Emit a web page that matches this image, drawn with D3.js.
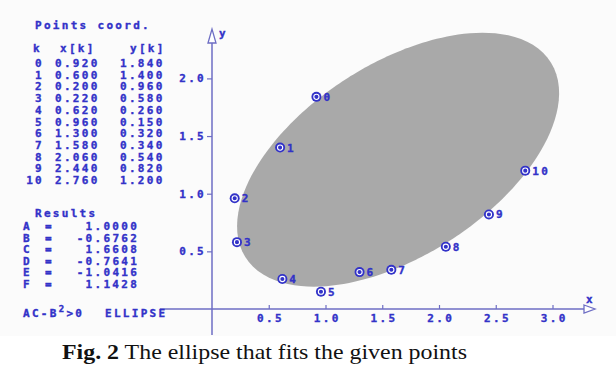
<!DOCTYPE html>
<html>
<head>
<meta charset="utf-8">
<script src="https://cdn.jsdelivr.net/npm/d3@7"></script>
<style>
  body { margin: 0; background: #fff; }
  .mono { font-family: "DejaVu Sans Mono", monospace; font-weight: bold; font-size: 11px; letter-spacing: 2.3px; fill: #3232c8; stroke: #3232c8; stroke-width: 0.35px; }
  .axis .domain { display: none; }
  .axis line { stroke: #6e6ec4; stroke-width: 1.2; }
  .axis text { font-family: "DejaVu Sans Mono", monospace; font-weight: bold; font-size: 11px; letter-spacing: 2.3px; fill: #3232c8; stroke: #3232c8; stroke-width: 0.35px; }
</style>
</head>
<body>
<div id="chart"></div>
<script>
let w = 616;
let h = 381;

let ks = [0, 1, 2, 3, 4, 5, 6, 7, 8, 9, 10];
let xs = [0.920, 0.600, 0.200, 0.220, 0.620, 0.960, 1.300, 1.580, 2.060, 2.440, 2.760];
let ys = [1.840, 1.400, 0.960, 0.580, 0.260, 0.150, 0.320, 0.340, 0.540, 0.820, 1.200];

// conic coefficients: A x^2 + 2B xy + C y^2 + 2D x + 2E y + F = 0
let coefNames = ["A", "B", "C", "D", "E", "F"];
let coefValues = [1.0000, -0.6762, 1.6608, -0.7641, -1.0416, 1.1428];

let xTicks = [0.5, 1.0, 1.5, 2.0, 2.5, 3.0];
let yTicks = [0.5, 1.0, 1.5, 2.0];

let blue = "#3232c8";
let axisColor = "#6e6ec4";
let charW = 8.9;

let viz = d3.select("#chart").append("svg")
	.attr("width", w)
	.attr("height", h)
;

viz.append("rect").attr("width", w).attr("height", 336).attr("fill", "#fbfbfb");

let xScale = d3.scaleLinear().domain([0, 3]).range([212, 552.5]);
let yScale = d3.scaleLinear().domain([0, 2]).range([309, 78.4]);

// ellipse from the coefficients
let [A, B, C, D, E, F] = coefValues;
let det = A * C - B * B;
let cx = (-D * C + E * B) / det;
let cy = (-E * A + D * B) / det;
let k = -(F + D * cx + E * cy);
let ellipsePts = d3.range(0, 361, 2).map(function(deg){
	let t = deg * Math.PI / 180;
	let c = Math.cos(t), s = Math.sin(t);
	let r = Math.sqrt(k / (A * c * c + 2 * B * c * s + C * s * s));
	return [cx + r * c, cy + r * s];
});
let line = d3.line().x(d => xScale(d[0])).y(d => yScale(d[1]));
viz.append("path")
	.attr("d", line(ellipsePts) + "Z")
	.attr("fill", "#a9a9a9")
;

// axes
let xAxis = d3.axisBottom(xScale).tickValues(xTicks).tickFormat(d3.format(".1f"))
	.tickSizeInner(-4).tickSizeOuter(0).tickPadding(5);
viz.append("g").attr("class", "axis").attr("transform", "translate(0," + yScale(0) + ")").call(xAxis)
	.selectAll("text").attr("dx", 1.2);

let yAxis = d3.axisLeft(yScale).tickValues(yTicks).tickFormat(d3.format(".1f"))
	.tickSizeInner(5).tickSizeOuter(0).tickPadding(1);
viz.append("g").attr("class", "axis").attr("transform", "translate(" + xScale(0) + ",0)").call(yAxis);

// axis lines with hollow arrows
let x0 = xScale(0), y0 = yScale(0);
viz.append("line").attr("x1", 160).attr("x2", 584).attr("y1", y0).attr("y2", y0)
	.attr("stroke", axisColor).attr("stroke-width", 1.5);
viz.append("line").attr("x1", x0).attr("x2", x0).attr("y1", 42).attr("y2", 335)
	.attr("stroke", axisColor).attr("stroke-width", 1.5);
viz.append("path")
	.attr("d", `M${584},${y0 - 4} L${595},${y0} L${584},${y0 + 4} Z`)
	.attr("fill", "#fff").attr("stroke", axisColor).attr("stroke-width", 1.3);
viz.append("path")
	.attr("d", `M${x0 - 4},${43} L${x0},${29} L${x0 + 4},${43} Z`)
	.attr("fill", "#fff").attr("stroke", axisColor).attr("stroke-width", 1.3);
viz.append("text").attr("class", "mono").attr("x", 586).attr("y", 303).text("x");
viz.append("text").attr("class", "mono").attr("x", 219).attr("y", 37).text("y");

// points
let pts = viz.append("g").selectAll(".pt").data(ks).enter().append("g")
	.attr("class", "pt")
	.attr("transform", i => "translate(" + xScale(xs[i]) + "," + yScale(ys[i]) + ")");
pts.append("circle").attr("r", 5).attr("fill", blue);
pts.append("circle").attr("r", 2.6).attr("fill", "none").attr("stroke", "#fff").attr("stroke-width", 1.1);
pts.append("text").attr("class", "mono").attr("x", 7).attr("y", 4).text(i => i);

// points table
let table = viz.append("g");
table.append("text").attr("class", "mono").attr("x", 35).attr("y", 29).text("Points coord.");
table.append("text").attr("class", "mono").attr("x", 33).attr("y", 52).text("k");
table.append("text").attr("class", "mono").attr("x", 60).attr("y", 52).text("x[k]");
table.append("text").attr("class", "mono").attr("x", 130).attr("y", 52).text("y[k]");
let rows = table.selectAll(".row").data(ks).enter().append("g")
	.attr("class", "row")
	.attr("transform", i => "translate(0," + (67 + i * 11.7) + ")");
rows.append("text").attr("class", "mono").attr("x", i => 44 - String(i).length * charW).text(i => i);
rows.append("text").attr("class", "mono").attr("x", 55).text(i => xs[i].toFixed(3));
rows.append("text").attr("class", "mono").attr("x", 120).text(i => ys[i].toFixed(3));

// results
let res = viz.append("g");
res.append("text").attr("class", "mono").attr("x", 35).attr("y", 217).text("Results");
let rrows = res.selectAll(".rrow").data(coefNames).enter().append("g")
	.attr("transform", (d, i) => "translate(0," + (230 + i * 11.5) + ")");
rrows.append("text").attr("class", "mono").attr("x", 23).text(d => d);
rrows.append("text").attr("class", "mono").attr("x", 45).text("=");
rrows.append("text").attr("class", "mono")
	.attr("x", (d, i) => 139 - coefValues[i].toFixed(4).length * charW)
	.text((d, i) => coefValues[i].toFixed(4));

let cond = res.append("text").attr("class", "mono").attr("x", 23).attr("y", 317);
cond.append("tspan").text("AC-B");
cond.append("tspan").attr("dy", -5).style("font-size", "9px").text("2");
cond.append("tspan").attr("dy", 5).text(">0");
res.append("text").attr("class", "mono").attr("x", 105).attr("y", 317).text("ELLIPSE");

// caption
let cap = viz.append("text")
	.attr("x", 62).attr("y", 359)
	.attr("textLength", 405).attr("lengthAdjust", "spacingAndGlyphs")
	.style("font-family", "'Liberation Serif', 'Times New Roman', serif")
	.style("font-size", "21px")
	.attr("fill", "#111");
cap.append("tspan").style("font-weight", "bold").text("Fig. 2");
cap.append("tspan").text(" The ellipse that fits the given points");
</script>
</body>
</html>
